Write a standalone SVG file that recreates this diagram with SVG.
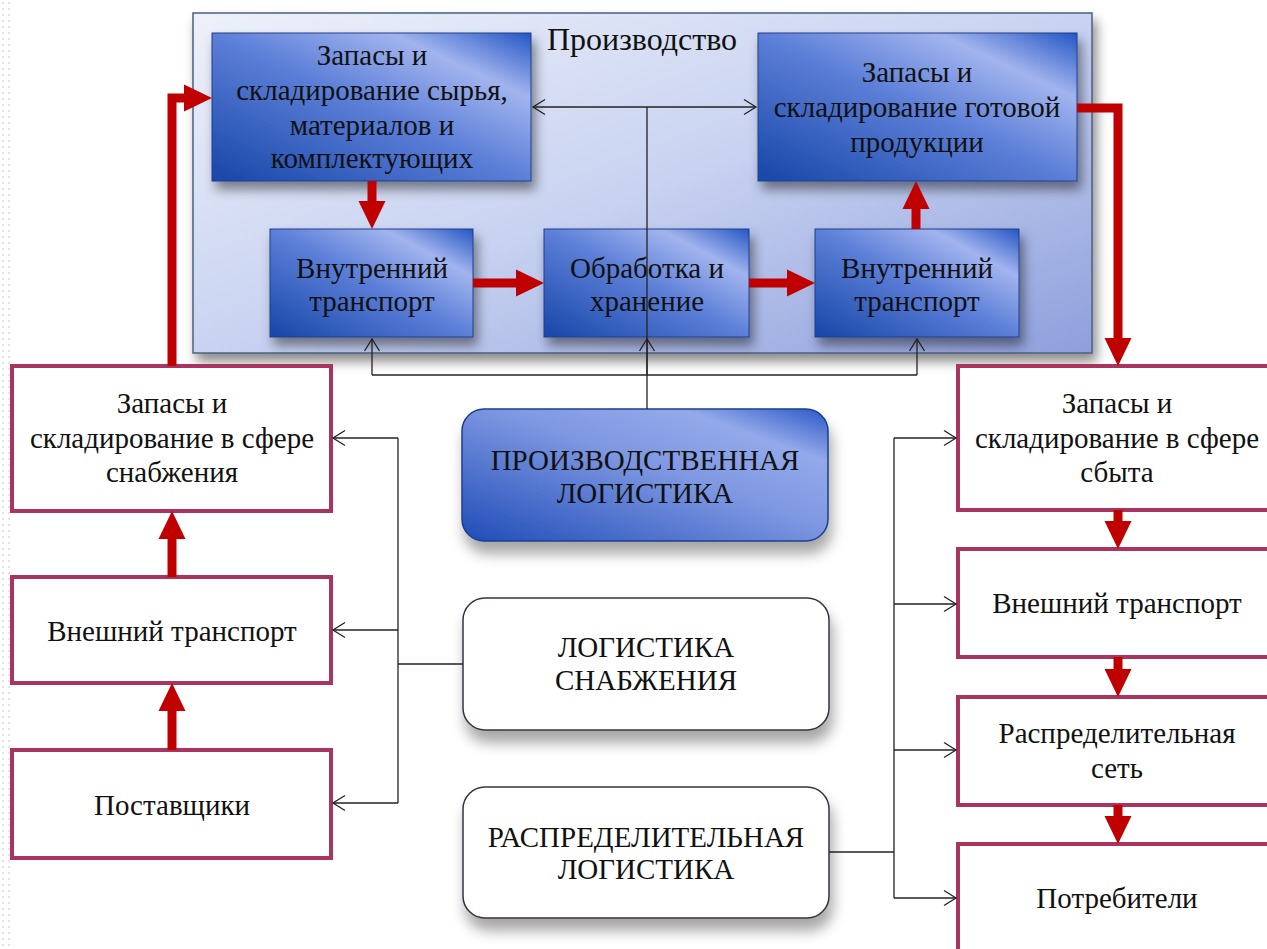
<svg xmlns="http://www.w3.org/2000/svg" width="1267" height="949" viewBox="0 0 1267 949">
<defs>
  <linearGradient id="gBlue" x1="0" y1="1" x2="1" y2="0">
    <stop offset="0" stop-color="#1746A8"/>
    <stop offset="0.5" stop-color="#5C7FD8"/>
    <stop offset="0.78" stop-color="#A2B4EE"/>
    <stop offset="1" stop-color="#2456C4"/>
  </linearGradient>
  <linearGradient id="gProd" x1="0" y1="0" x2="1" y2="1">
    <stop offset="0" stop-color="#EEF1FA"/>
    <stop offset="0.5" stop-color="#C9D3F1"/>
    <stop offset="1" stop-color="#8E9FDC"/>
  </linearGradient>
  <linearGradient id="gMain" x1="0" y1="1" x2="1" y2="0">
    <stop offset="0" stop-color="#1F4CB8"/>
    <stop offset="0.55" stop-color="#7F98E2"/>
    <stop offset="0.8" stop-color="#93A9EA"/>
    <stop offset="1" stop-color="#2A58C6"/>
  </linearGradient>
  <pattern id="dots" width="6" height="6" patternUnits="userSpaceOnUse">
    <circle cx="3" cy="3" r="1.2" fill="#E4E4E8"/>
  </pattern>
  <filter id="sh" x="-10%" y="-10%" width="130%" height="140%">
    <feDropShadow dx="4" dy="8" stdDeviation="6" flood-color="#000" flood-opacity="0.45"/>
  </filter>
  <filter id="shL" x="-10%" y="-10%" width="130%" height="150%">
    <feDropShadow dx="3" dy="12" stdDeviation="7" flood-color="#000" flood-opacity="0.35"/>
  </filter>
  <marker id="chev" markerUnits="userSpaceOnUse" markerWidth="16" markerHeight="18" viewBox="-14 -9 16 18" refX="0" refY="0" orient="auto">
    <polyline points="-12,-7.5 0,0 -12,7.5" fill="none" stroke="#222" stroke-width="1.3"/>
  </marker>
  <marker id="redHead" markerUnits="userSpaceOnUse" markerWidth="30" markerHeight="30" viewBox="0 -15 30 30" refX="0" refY="0" orient="auto">
    <polygon points="0,-13.5 28,0 0,13.5" fill="#C00000"/>
  </marker>
</defs>
<style>
  .t { font-size: 29px; fill: #111; text-anchor: middle; }
  .bbox { fill: url(#gBlue); stroke: #1E3F8A; stroke-width: 1; filter: url(#sh); }
  .pbox { fill: #FFFFFF; stroke: #A8345F; stroke-width: 4; }
  .wnode { fill: #FFFFFF; stroke: #3A3040; stroke-width: 1.5; filter: url(#shL); }
  .red { fill: none; stroke: #C00000; stroke-width: 9; marker-end: url(#redHead); }
  .thin { fill: none; stroke: #222; stroke-width: 1.3; }
  .arr { marker-end: url(#chev); }
</style>

<rect x="0" y="0" width="10" height="949" fill="url(#dots)"/>

<g id="production">
  <rect x="193" y="13" width="899" height="340" fill="url(#gProd)" stroke="#4A5F80" stroke-width="1.5" filter="url(#sh)"/>
  <text class="t" font-family="Liberation Serif" x="642" y="50" style="font-size:32px">Производство</text>
</g>

<g id="raw-storage">
  <rect class="bbox" x="212" y="33" width="319" height="148"/>
  <text class="t" font-family="Liberation Serif" x="372" y="65">Запасы и</text>
  <text class="t" font-family="Liberation Serif" x="372" y="100">складирование сырья,</text>
  <text class="t" font-family="Liberation Serif" x="372" y="135">материалов и</text>
  <text class="t" font-family="Liberation Serif" x="372" y="168">комплектующих</text>
</g>

<g id="finished-storage">
  <rect class="bbox" x="758" y="33" width="319" height="148"/>
  <text class="t" font-family="Liberation Serif" x="917" y="82">Запасы и</text>
  <text class="t" font-family="Liberation Serif" x="917" y="117">складирование готовой</text>
  <text class="t" font-family="Liberation Serif" x="917" y="152">продукции</text>
</g>

<g id="internal-transport-1">
  <rect class="bbox" x="270" y="229" width="203" height="108"/>
  <text class="t" font-family="Liberation Serif" x="372" y="278">Внутренний</text>
  <text class="t" font-family="Liberation Serif" x="372" y="311">транспорт</text>
</g>

<g id="processing">
  <rect class="bbox" x="544" y="229" width="205" height="108"/>
  <text class="t" font-family="Liberation Serif" x="647" y="278">Обработка и</text>
  <text class="t" font-family="Liberation Serif" x="647" y="311">хранение</text>
</g>

<g id="internal-transport-2">
  <rect class="bbox" x="815" y="229" width="204" height="108"/>
  <text class="t" font-family="Liberation Serif" x="917" y="278">Внутренний</text>
  <text class="t" font-family="Liberation Serif" x="917" y="311">транспорт</text>
</g>

<g id="supply-storage">
  <rect class="pbox" x="12" y="366" width="319" height="145"/>
  <text class="t" font-family="Liberation Serif" x="172" y="413">Запасы и</text>
  <text class="t" font-family="Liberation Serif" x="172" y="448">складирование в сфере</text>
  <text class="t" font-family="Liberation Serif" x="172" y="482">снабжения</text>
</g>

<g id="external-transport-in">
  <rect class="pbox" x="12" y="577" width="319" height="106"/>
  <text class="t" font-family="Liberation Serif" x="172" y="641">Внешний транспорт</text>
</g>

<g id="suppliers">
  <rect class="pbox" x="12" y="750" width="319" height="108"/>
  <text class="t" font-family="Liberation Serif" x="172" y="815">Поставщики</text>
</g>

<g id="sales-storage">
  <rect class="pbox" x="958" y="366" width="320" height="144"/>
  <text class="t" font-family="Liberation Serif" x="1117" y="413">Запасы и</text>
  <text class="t" font-family="Liberation Serif" x="1117" y="448">складирование в сфере</text>
  <text class="t" font-family="Liberation Serif" x="1117" y="482">сбыта</text>
</g>

<g id="external-transport-out">
  <rect class="pbox" x="958" y="549" width="320" height="108"/>
  <text class="t" font-family="Liberation Serif" x="1117" y="613">Внешний транспорт</text>
</g>

<g id="distribution-network">
  <rect class="pbox" x="958" y="697" width="320" height="108"/>
  <text class="t" font-family="Liberation Serif" x="1117" y="743">Распределительная</text>
  <text class="t" font-family="Liberation Serif" x="1117" y="778">сеть</text>
</g>

<g id="consumers">
  <rect class="pbox" x="958" y="844" width="320" height="112"/>
  <text class="t" font-family="Liberation Serif" x="1117" y="908">Потребители</text>
</g>

<g id="production-logistics">
  <rect x="462" y="409" width="366" height="132" rx="22" fill="url(#gMain)" stroke="#1E3F8A" stroke-width="1.5" filter="url(#shL)"/>
  <text class="t" font-family="Liberation Serif" x="645" y="470">ПРОИЗВОДСТВЕННАЯ</text>
  <text class="t" font-family="Liberation Serif" x="645" y="503">ЛОГИСТИКА</text>
</g>

<g id="supply-logistics">
  <rect class="wnode" x="463" y="598" width="366" height="132" rx="22"/>
  <text class="t" font-family="Liberation Serif" x="646" y="657">ЛОГИСТИКА</text>
  <text class="t" font-family="Liberation Serif" x="646" y="690">СНАБЖЕНИЯ</text>
</g>

<g id="distribution-logistics">
  <rect class="wnode" x="463" y="787" width="366" height="131" rx="22"/>
  <text class="t" font-family="Liberation Serif" x="646" y="847">РАСПРЕДЕЛИТЕЛЬНАЯ</text>
  <text class="t" font-family="Liberation Serif" x="646" y="879">ЛОГИСТИКА</text>
</g>

<g id="connectors">
  <path class="red" d="M372,181 V201"/>
  <path class="red" d="M473,283 H516"/>
  <path class="red" d="M749,283 H787"/>
  <path class="red" d="M916,229 V209"/>
  <path class="red" d="M1077,108 H1118 V338"/>
  <path class="red" d="M172,366 V98 H184"/>
  <path class="red" d="M172,577 V539"/>
  <path class="red" d="M172,750 V711"/>
  <path class="red" d="M1118,510 V521"/>
  <path class="red" d="M1118,657 V669"/>
  <path class="red" d="M1118,805 V816"/>

  <path class="thin" d="M647,409 V107"/>
  <path class="thin arr" d="M647,107 H533"/>
  <path class="thin arr" d="M647,107 H756"/>
  <path class="thin" d="M372,375 H917"/>
  <path class="thin arr" d="M372,375 V339"/>
  <path class="thin arr" d="M647,375 V339"/>
  <path class="thin arr" d="M917,375 V339"/>

  <path class="thin" d="M463,664 H398" stroke-width="2"/>
  <path class="thin" d="M398,438 V803"/>
  <path class="thin arr" d="M398,438 H333"/>
  <path class="thin arr" d="M398,630 H333"/>
  <path class="thin arr" d="M398,803 H333"/>

  <path class="thin" d="M829,852 H894" stroke-width="2"/>
  <path class="thin" d="M894,438 V898"/>
  <path class="thin arr" d="M894,438 H956"/>
  <path class="thin arr" d="M894,604 H956"/>
  <path class="thin arr" d="M894,750 H956"/>
  <path class="thin arr" d="M894,898 H956"/>
</g>
</svg>
